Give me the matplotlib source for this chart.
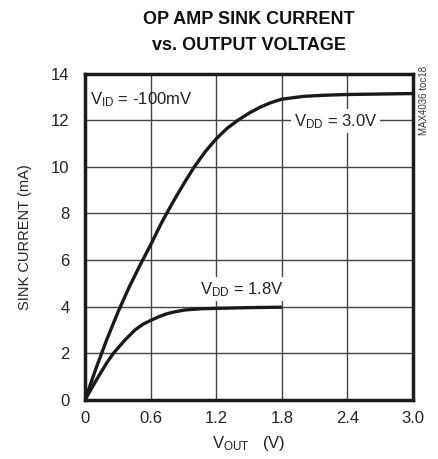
import matplotlib
matplotlib.use("Agg")
import matplotlib.pyplot as plt

plt.rcParams['font.family'] = ['Liberation Sans', 'DejaVu Sans']
plt.rcParams['mathtext.fontset'] = 'custom'
plt.rcParams['mathtext.rm'] = 'Liberation Sans'
plt.rcParams['mathtext.default'] = 'rm'

# Data
v_30 = [0, 0.1, 0.2, 0.3, 0.4, 0.5, 0.6, 0.7, 0.8, 0.9, 1.0, 1.1, 1.2, 1.3, 1.4, 1.5, 1.6, 1.7, 1.8, 2.0, 2.2, 2.4, 2.7, 3.0]
i_30 = [0, 1.35, 2.6, 3.75, 4.8, 5.75, 6.65, 7.6, 8.45, 9.25, 10.0, 10.65, 11.2, 11.65, 12.0, 12.3, 12.55, 12.75, 12.9, 13.02, 13.07, 13.1, 13.12, 13.14]
v_18 = [0, 0.05, 0.122, 0.2, 0.259, 0.3, 0.365, 0.457, 0.53, 0.609, 0.68, 0.75, 0.82, 0.913, 1.05, 1.2, 1.5, 1.8]
i_18 = [0, 0.42, 1.0, 1.6, 2.0, 2.22, 2.57, 3.0, 3.25, 3.43, 3.58, 3.7, 3.78, 3.86, 3.91, 3.93, 3.96, 3.98]

x_ticks = [0, 0.6, 1.2, 1.8, 2.4, 3.0]
x_labels = ["0", "0.6", "1.2", "1.8", "2.4", "3.0"]
y_ticks = [0, 2, 4, 6, 8, 10, 12, 14]
y_labels = ["0", "2", "4", "6", "8", "10", "12", "14"]

INK = '#1a1a1a'
fig = plt.figure(figsize=(4.38, 4.59), dpi=100)
ax = fig.add_axes([85/438, 59/459, 328/438, 326.5/459])

ax.plot(v_30, i_30, color=INK, lw=2.4, solid_capstyle='butt', solid_joinstyle='round', zorder=3)
ax.plot(v_18, i_18, color=INK, lw=2.4, solid_capstyle='butt', solid_joinstyle='round', zorder=3)

ax.set_xlim(0, 3.0)
ax.set_ylim(0, 14)
ax.set_xticks(x_ticks)
ax.set_xticklabels(x_labels)
ax.set_yticks(y_ticks)
ax.set_yticklabels(y_labels)
ax.tick_params(length=0, labelsize=12, colors='#222222')
ax.tick_params(axis='y', pad=11)
ax.tick_params(axis='x', pad=8)
ax.grid(True, color='#444444', lw=1.0)
ax.set_axisbelow(True)
for s in ax.spines.values():
    s.set_linewidth(2.5)
    s.set_color(INK)

ax.set_xlabel(r'V$_{OUT}$   (V)', fontsize=12, labelpad=6, color='#222222')
ax.set_ylabel('SINK CURRENT (mA)', fontsize=10.5, labelpad=14, color='#222222')

bbox = dict(facecolor='white', edgecolor='none', pad=2.0)
ax.text(0.05, 12.9, r'V$_{ID}$ = -100mV', fontsize=12, ha='left', va='center', color='#222222')
ax.text(2.29, 11.95, r'V$_{DD}$ = 3.0V', fontsize=12, ha='center', va='center', color='#222222', bbox=bbox, zorder=2)
ax.text(1.43, 4.75, r'V$_{DD}$ = 1.8V', fontsize=12, ha='center', va='center', color='#222222', bbox=bbox, zorder=2)

fig.text(249/438, 1 - 20/459, 'OP AMP SINK CURRENT', fontsize=13, fontweight='bold', ha='center', va='center', color='#111111')
fig.text(249/438, 1 - 45/459, 'vs. OUTPUT VOLTAGE', fontsize=13, fontweight='bold', ha='center', va='center', color='#111111')
fig.text(424/438, 1 - 66/459, 'MAX4036 toc18', fontsize=7, rotation=90, ha='center', va='top', color='#333333')

fig.savefig('out.png', dpi=100)
